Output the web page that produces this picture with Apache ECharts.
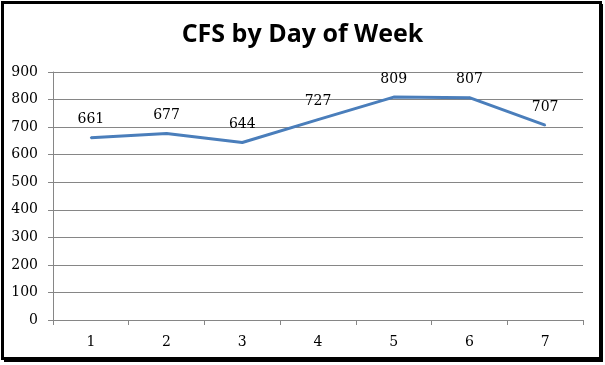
<!DOCTYPE html>
<html><head><meta charset="utf-8">
<script src="https://cdn.jsdelivr.net/npm/echarts@6/dist/echarts.min.js"></script>
<style>html,body{margin:0;padding:0;background:#fff}#c{width:605px;height:365px}</style>
</head><body><div id="c"></div>
<script>
var categories = ['1','2','3','4','5','6','7'];
var values = [661, 677, 644, 727, 809, 807, 707];
var titleText = 'CFS by Day of Week';
var chart = echarts.init(document.getElementById('c'));
var serif = '"DejaVu Serif", "Liberation Serif", serif';
chart.setOption({
  animation: false,
  backgroundColor: '#fff',
  title: {text: titleText, left: 'center', top: 17,
    textStyle: {fontFamily: '"Open Sans", "Liberation Sans", sans-serif', fontWeight: 'bold', fontSize: 25, color: '#000'}},
  grid: {left: 53, right: 22, top: 72, bottom: 45},
  xAxis: {type: 'category', data: categories, boundaryGap: true,
    axisLine: {lineStyle: {color: '#868686', width: 1}},
    axisTick: {show: true, length: 5, lineStyle: {color: '#868686'}},
    axisLabel: {color: '#000', fontFamily: serif, fontSize: 14, margin: 15}},
  yAxis: {type: 'value', min: 0, max: 900, interval: 100,
    axisLine: {show: true, lineStyle: {color: '#868686'}},
    axisTick: {show: true, length: 5, inside: false, lineStyle: {color: '#868686'}},
    splitLine: {lineStyle: {color: '#868686', width: 1}},
    axisLabel: {color: '#000', fontFamily: serif, fontSize: 14, margin: 15}},
  series: [{type: 'line', data: values, symbol: 'circle', symbolSize: 2, showSymbol: true,
    itemStyle: {color: '#4A7EBB', borderWidth: 0},
    lineStyle: {color: '#4A7EBB', width: 3},
    labelLayout: {hideOverlap: false},
    label: {show: true, position: 'top', distance: 10, color: '#000', opacity: 1, fontFamily: serif, fontSize: 14}}],
  graphic: [
    {type: 'rect', shape: {x: 2.5, y: 2.5, width: 598, height: 356}, style: {fill: 'none', stroke: '#000', lineWidth: 3}},
    {type: 'line', shape: {x1: 602, y1: 4, x2: 602, y2: 361}, style: {stroke: '#000', lineWidth: 2}},
    {type: 'line', shape: {x1: 4, y1: 361, x2: 603, y2: 361}, style: {stroke: '#000', lineWidth: 2}}
  ]
});
</script></body></html>
